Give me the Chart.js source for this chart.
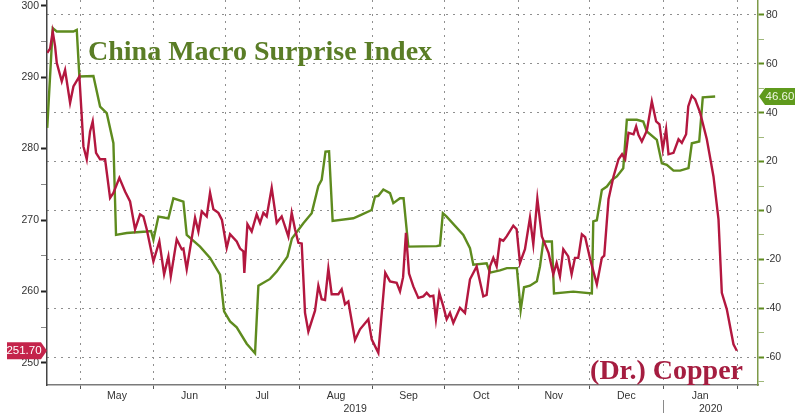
<!DOCTYPE html>
<html>
<head>
<meta charset="utf-8">
<title>China Macro Surprise Index vs (Dr.) Copper</title>
<script src="https://cdn.jsdelivr.net/npm/chart.js@4.4.0/dist/chart.umd.min.js"></script>
<style>
  html, body { margin: 0; padding: 0; background: #fff; }
  #chart { display: block; }
</style>
</head>
<body>
<canvas id="chart" width="800" height="416"></canvas>
<script>
// x values are days counted from 2019-04-01
const monthNames = ['May', 'Jun', 'Jul', 'Aug', 'Sep', 'Oct', 'Nov', 'Dec', 'Jan'];
const monthStarts = [30, 61, 91, 122, 153, 183, 214, 244, 275, 306];
const yearNames = ['2019', '2020'];
const newYearDay = 275;

const copperAxisLabels = [250, 260, 270, 280, 290, 300];
const surpriseAxisLabels = [-60, -40, -20, 0, 20, 40, 60, 80];

// Copper (left axis)
const copperDays = [16.2,17.4,18.5,19.5,20.2,22.3,23.7,25.8,27.2,29.7,
  30.7,31.4,32.8,34.2,35.3,36.7,38.4,40.5,42.6,44.0,
  46.5,48.9,51.0,53.1,55.2,56.6,58.0,60.8,63.3,65.3,
  67.1,68.1,70.6,72.7,73.4,74.8,78.3,79.7,81.1,83.2,
  84.6,86.0,88.1,89.6,91.6,93.0,95.8,97.2,98.6,99.0,
  100.3,102.1,104.2,105.6,107.0,108.4,110.5,112.6,114.7,117.5,
  118.9,120.3,121.7,123.1,124.5,125.9,128.7,130.1,131.5,132.9,
  134.3,135.7,138.5,139.9,141.3,142.7,145.5,147.6,151.1,152.5,
  155.3,158.2,160.2,163.0,164.4,165.7,166.9,168.2,170.0,172.1,
  174.2,175.6,177.0,178.4,179.5,180.9,182.6,184.0,185.4,186.8,
  189.6,191.7,193.8,196.6,199.4,200.8,202.2,203.6,205.0,206.4,
  207.8,209.2,212.0,213.4,214.8,216.9,219.0,220.4,222.1,224.0,
  226.8,228.8,230.2,231.6,233.0,235.1,236.5,237.9,239.3,240.8,
  242.2,244.3,247.1,249.2,250.2,252.0,254.1,256.2,257.7,259.0,
  260.4,262.5,263.6,264.6,266.0,268.1,270.2,272.0,273.4,274.8,
  276.2,277.2,279.3,281.4,282.8,284.6,285.5,287.0,288.4,290.5,
  293.3,296.1,298.2,299.6,301.7,304.5,305.9];
const copperValues = [293.4,294.0,296.4,294.3,292.0,289.4,291.0,286.4,288.7,290.1,
  284.5,280.3,278.5,282.4,283.8,279.4,278.5,278.5,273.1,273.8,
  275.9,274.0,272.6,268.7,270.8,270.5,268.7,264.2,267.0,262.4,
  264.9,262.1,267.3,265.9,266.0,263.1,270.3,268.4,271.2,270.5,
  273.8,271.5,271.0,270.0,266.1,268.0,267.0,266.0,265.6,262.6,
  269.4,268.4,270.8,269.6,271.0,270.5,274.5,269.6,270.5,267.7,
  271.0,268.7,266.8,266.7,257.0,254.4,257.3,260.8,258.9,258.8,
  263.2,259.6,259.6,260.3,258.2,258.6,253.2,254.7,256.1,253.3,
  251.4,262.6,261.4,261.2,260.0,262.0,268.2,262.5,260.7,259.1,
  259.3,259.8,259.3,259.4,256.1,259.8,257.9,256.1,257.0,255.6,
  257.7,257.0,261.7,263.5,259.3,259.5,263.5,264.7,263.5,267.3,
  267.1,267.7,269.2,268.7,264.0,265.9,270.3,266.6,273.0,267.7,
  265.4,262.4,264.0,262.1,265.9,264.9,262.4,264.7,264.7,268.0,
  267.6,264.5,261.0,264.7,265.0,272.9,276.1,278.5,279.2,278.5,
  282.2,282.0,283.1,281.9,281.0,282.5,286.6,283.8,283.4,279.9,
  282.7,279.2,279.4,281.3,280.8,282.0,285.9,287.4,286.9,285.0,
  281.3,276.1,270.1,259.8,257.5,252.6,251.7];

// China Macro Surprise Index (right axis)
const surpriseDays = [16.2,18.5,20.2,27.2,28.6,29.7,35.6,38.4,41.2,44.0,
  45.1,49.6,58.0,59.8,60.8,62.9,65.7,67.1,69.2,73.4,
  74.8,80.4,84.6,88.8,90.5,93.0,95.8,100.0,103.5,104.9,
  109.8,112.6,117.1,119.0,123.8,127.3,130.1,131.5,133.1,134.6,
  136.1,144.8,147.6,152.5,153.9,155.3,157.4,160.2,161.6,164.4,
  165.9,167.9,179.8,181.2,182.4,184.0,191.0,193.8,195.2,200.8,
  202.2,206.4,209.3,213.5,215.1,216.5,219.0,221.9,223.2,224.6,
  228.2,229.1,237.2,245.0,245.6,247.1,249.2,251.3,253.4,255.5,
  258.2,259.7,263.9,266.6,268.1,272.3,274.4,276.5,279.3,282.1,
  285.6,287.0,290.1,291.6,296.8];
const surpriseValues = [33.8,74.6,73.2,73.2,73.9,54.8,55.0,42.5,39.8,27.5,
  -10.0,-9.2,-8.6,-8.4,-12.0,-2.5,-3.0,-3.2,5.0,3.6,
  -10.0,-14.8,-19.4,-26.3,-41.3,-45.4,-47.8,-54.5,-58.4,-30.8,
  -28.0,-25.0,-18.9,-11.5,-5.2,-1.1,10.0,12.5,24.1,24.2,
  -4.3,-3.2,-2.0,0.2,5.7,6.0,8.6,7.1,3.0,5.0,
  5.0,-14.8,-14.6,-14.3,-1.1,-2.5,-10.0,-15.4,-22.2,-21.6,
  -25.4,-24.5,-23.6,-23.6,-40.7,-31.4,-30.8,-29.0,-22.9,-12.7,
  -12.7,-33.9,-33.2,-33.9,-4.5,-4.0,8.4,9.8,12.5,13.9,
  17.3,37.1,37.1,36.4,32.3,28.9,19.3,18.7,16.3,16.3,
  17.3,27.5,28.2,46.3,46.6];

const X_MIN = 16.1, X_MAX = 314.8;
const RED = '#b3173f';
const GREEN = '#5e8b1e';
const GRID = '#8f8f8f';
const GRID_DASH = [2, 5];

// x ticks: gridlines at month starts, labels at mid-month, years under their span
const xTicks = [];
monthStarts.forEach(v => xTicks.push({ value: v, label: '', grid: true }));
monthNames.forEach((name, i) => {
    xTicks.push({ value: (monthStarts[i] + monthStarts[i + 1]) / 2, label: name, grid: false });
});
xTicks.push({ value: (X_MIN + newYearDay) / 2, label: ['', yearNames[0]], grid: false });
xTicks.push({ value: (newYearDay + X_MAX) / 2, label: ['', yearNames[1]], grid: false });
xTicks.sort((a, b) => a.value - b.value);

const isGridTick = ctx => !!(xTicks[ctx.index] && xTicks[ctx.index].grid);

function toPoints(days, values) {
    return days.map((d, i) => ({ x: d, y: values[i] }));
}

function drawTag(ctx, text, tipX, y, left, right, fill, textColor, pointLeft) {
    const h = 8.5;
    ctx.save();
    ctx.beginPath();
    if (pointLeft) {
        ctx.moveTo(tipX, y);
        ctx.lineTo(left, y - h);
        ctx.lineTo(right, y - h);
        ctx.lineTo(right, y + h);
        ctx.lineTo(left, y + h);
    } else {
        ctx.moveTo(left, y - h);
        ctx.lineTo(right, y - h);
        ctx.lineTo(tipX, y);
        ctx.lineTo(right, y + h);
        ctx.lineTo(left, y + h);
    }
    ctx.closePath();
    ctx.fillStyle = fill;
    ctx.fill();
    ctx.fillStyle = textColor;
    ctx.font = '11.5px "Liberation Sans", Arial, sans-serif';
    ctx.textAlign = 'center';
    ctx.textBaseline = 'middle';
    ctx.fillText(text, (left + right) / 2, y + 0.5);
    ctx.restore();
}

const overlayPlugin = {
    id: 'overlay',
    afterDatasetsDraw(chart) {
        const { ctx, chartArea } = chart;
        ctx.save();
        ctx.font = 'bold 28px "Liberation Serif", "Times New Roman", serif';
        ctx.textBaseline = 'alphabetic';
        ctx.fillStyle = '#5a7d26';
        ctx.textAlign = 'left';
        ctx.fillText('China Macro Surprise Index', chartArea.left + 41, 60);
        ctx.fillStyle = '#a51d40';
        ctx.textAlign = 'right';
        ctx.fillText('(Dr.) Copper', chartArea.right - 15, 379);
        ctx.restore();
    },
    afterDraw(chart) {
        const { ctx, chartArea, scales } = chart;
        // year separator under the axis
        const sx = Math.round(scales.x.getPixelForValue(newYearDay)) + 0.5;
        ctx.save();
        ctx.strokeStyle = '#8a8a8a';
        ctx.lineWidth = 1;
        ctx.beginPath();
        ctx.moveTo(sx, chartArea.bottom + 15);
        ctx.lineTo(sx, chartArea.bottom + 28);
        ctx.stroke();
        ctx.restore();

        const lastCopper = copperValues[copperValues.length - 1];
        const lastSurprise = surpriseValues[surpriseValues.length - 1];
        drawTag(ctx, lastCopper.toFixed(2), chartArea.left, scales.y.getPixelForValue(lastCopper),
            chartArea.left - 40, chartArea.left - 6, '#c4244b', '#ffffff', false);
        drawTag(ctx, lastSurprise.toFixed(2), chartArea.right + 1, scales.y1.getPixelForValue(lastSurprise),
            chartArea.right + 7, chartArea.right + 37, '#5f9a1c', '#eef7e2', true);
    }
};

document.addEventListener('DOMContentLoaded', function() {
    Chart.defaults.font.family = '"Liberation Sans", Arial, sans-serif';
    Chart.defaults.font.size = 10.5;
    Chart.defaults.color = '#333';

    new Chart(document.getElementById('chart').getContext('2d'), {
        type: 'line',
        data: {
            datasets: [{
                label: 'Copper',
                data: toPoints(copperDays, copperValues),
                yAxisID: 'y',
                borderColor: RED,
                borderWidth: 2.4,
                pointRadius: 0,
                tension: 0
            }, {
                label: 'China Macro Surprise Index',
                data: toPoints(surpriseDays, surpriseValues),
                yAxisID: 'y1',
                borderColor: GREEN,
                borderWidth: 2.4,
                pointRadius: 0,
                tension: 0
            }]
        },
        options: {
            responsive: false,
            animation: false,
            events: [],
            layout: { padding: 0 },
            plugins: {
                legend: { display: false },
                tooltip: { enabled: false }
            },
            scales: {
                x: {
                    type: 'linear',
                    min: X_MIN,
                    max: X_MAX,
                    afterBuildTicks: s => { s.ticks = xTicks.map(t => ({ value: t.value })); },
                    afterFit: s => { s.height = 31; s.paddingLeft = 0; s.paddingRight = 0; },
                    ticks: {
                        autoSkip: false,
                        maxRotation: 0,
                        padding: 1,
                        color: '#333',
                        callback: (v, i) => xTicks[i] ? xTicks[i].label : ''
                    },
                    grid: {
                        color: ctx => isGridTick(ctx) ? GRID : 'transparent',
                        tickColor: ctx => isGridTick(ctx) ? '#555' : 'transparent',
                        tickLength: 4,
                        tickBorderDash: [],
                        lineWidth: 1
                    },
                    border: { color: '#7a7a7a', width: 1.5, dash: GRID_DASH }
                },
                y: {
                    position: 'left',
                    min: 246.9,
                    max: 300.8,
                    afterFit: s => { s.width = 47; s.paddingTop = 0; s.paddingBottom = 0; },
                    ticks: {
                        stepSize: 5,
                        includeBounds: false,
                        autoSkip: false,
                        padding: 2,
                        color: '#333',
                        callback: v => copperAxisLabels.includes(v) ? String(v) : ''
                    },
                    grid: {
                        drawOnChartArea: false,
                        tickLength: 6,
                        tickWidth: ctx => ctx.tick && copperAxisLabels.includes(ctx.tick.value) ? 2 : 1,
                        tickColor: ctx => ctx.tick && copperAxisLabels.includes(ctx.tick.value) ? '#222' : '#888',
                        tickBorderDash: []
                    },
                    border: { color: '#444', width: 1.5 }
                },
                y1: {
                    position: 'right',
                    min: -71.4,
                    max: 86.1,
                    afterFit: s => { s.width = 42; s.paddingTop = 0; s.paddingBottom = 0; },
                    ticks: {
                        stepSize: 10,
                        includeBounds: false,
                        autoSkip: false,
                        padding: 2,
                        color: '#333',
                        callback: v => surpriseAxisLabels.includes(v) ? String(v) : ''
                    },
                    grid: {
                        color: ctx => ctx.tick && surpriseAxisLabels.includes(ctx.tick.value) ? GRID : 'transparent',
                        tickLength: 6,
                        tickWidth: ctx => ctx.tick && surpriseAxisLabels.includes(ctx.tick.value) ? 2 : 1,
                        tickColor: ctx => ctx.tick && surpriseAxisLabels.includes(ctx.tick.value) ? '#5e8b1e' : '#9fb87a',
                        tickBorderDash: []
                    },
                    border: { color: '#7d9a48', width: 1.5, dash: GRID_DASH }
                }
            }
        },
        plugins: [overlayPlugin]
    });
});
</script>
</body>
</html>
